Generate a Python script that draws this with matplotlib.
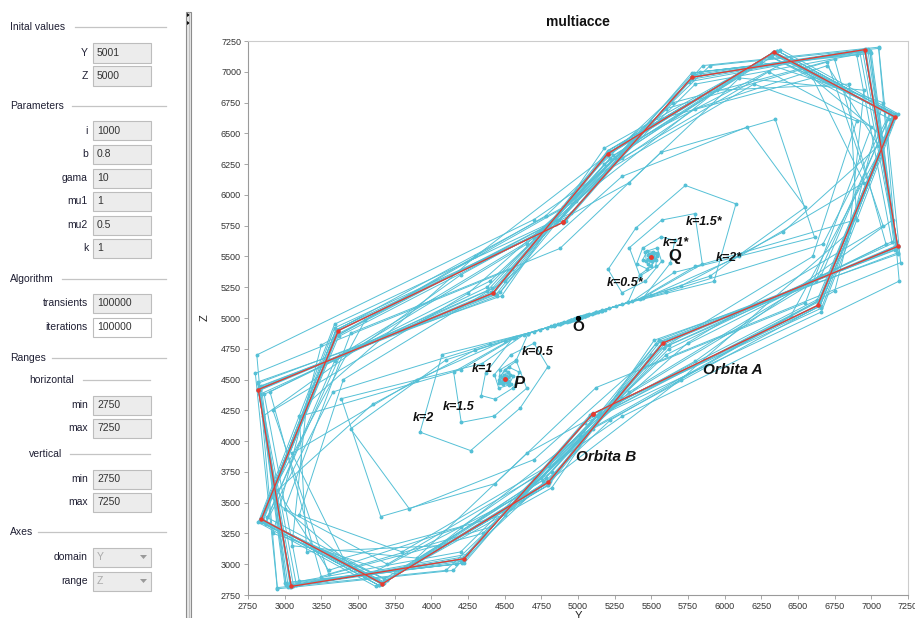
import matplotlib
matplotlib.use('Agg')
import matplotlib.pyplot as plt
from matplotlib.patches import Rectangle, Polygon
from matplotlib.lines import Line2D
import numpy as np

plt.rcParams['font.family'] = ['Liberation Sans', 'DejaVu Sans']

W, H = 915, 618

# ---------------- data (delay sequences: points are (s[t], s[t+1])) ----------------
orbit_A = [4898, 5777, 6955, 7180, 5581, 4798, 3666, 2841, 3366]
orbit_B = [5102, 4223, 3045, 2820, 4419, 5202, 6334, 7159, 6634]

traj_A1 = [4898, 5777, 6955, 7180, 5581, 4798, 3666, 2841, 3366, 4895, 5776, 6953, 7179, 5581, 4798,
           3668, 2845, 3368, 4850, 5760, 6920, 7170, 5585, 4760, 3680, 2880, 3380, 4700, 5650, 6750,
           7100, 5600, 4700, 3700, 3000, 3450, 4877, 5565, 6345, 6613, 5655, 5370, 5137, 5051, 5019,
           5007, 5003, 5001]
traj_A2 = [5581, 4798, 3663, 2838, 3363, 4899, 5779, 6957, 7181, 5576, 4802, 3663, 2838, 3340, 4920,
           5790, 6975, 7185, 5520, 4820, 3620, 2820, 3340, 4950, 5850, 7050, 7200, 5450, 4600, 3550,
           2900, 3550, 4985, 5950, 6850, 6900, 5800, 5420, 5155, 5057, 5021, 5008, 5003, 5001]
traj_A3 = [4902, 5777, 6958, 7170, 5560, 4810, 3675, 2850, 3360, 4860, 5790, 6990, 7170, 5620, 4780,
           3700, 2870, 3340, 4650, 5600, 6700, 7080, 5750, 4800, 3800, 3100, 3400, 4500, 5300, 6150,
           6550, 5900, 5340, 5126, 5047, 5017, 5006, 5002, 5000]
traj_A4 = [6958, 7180, 5575, 4800, 3680, 2855, 3355, 4895, 5775, 6990, 7160, 5550, 4820, 3750, 2920,
           3250, 4780, 5830, 7000, 7150, 5800, 4650, 3900, 3050, 3150, 4300, 5500, 6600, 6950, 6100,
           5500, 5185, 5068, 5025, 5009, 5003, 5001]
traj_A5 = [5579, 4797, 3640, 2830, 3350, 4905, 5785, 6962, 7182, 5530, 4790, 3640, 2830, 3350, 4900,
           5900, 7050, 7190, 5300, 4200, 3300, 2950, 3600, 4300, 4741, 4904, 4965, 4987, 4995, 4998,
           5000]
traj_A6 = [4897, 5777, 6940, 7175, 5590, 4790, 3670, 2848, 3362, 4870, 5800, 6900, 7140, 5620, 4750,
           3700, 2870, 3330, 4400, 4790, 4922, 4971, 4989, 4996, 4999]

traj_B1 = [5102, 4223, 3045, 2820, 4419, 5202, 6334, 7159, 6634, 5105, 4224, 3047, 2821, 4419, 5202,
           6332, 7155, 6632, 5150, 4240, 3080, 2830, 4415, 5240, 6320, 7120, 6620, 5300, 4350, 3250,
           2900, 4400, 5300, 6300, 7000, 6550, 5123, 4435, 3655, 3387, 4345, 4630, 4863, 4949, 4981,
           4993, 4997, 4999]
traj_B2 = [4419, 5202, 6337, 7162, 6637, 5101, 4221, 3043, 2819, 4424, 5198, 6337, 7162, 6660, 5080,
           4210, 3025, 2815, 4480, 5180, 6380, 7180, 6660, 5050, 4150, 2950, 2800, 4550, 5400, 6450,
           7100, 6450, 5015, 4050, 3150, 3100, 4200, 4580, 4845, 4943, 4979, 4992, 4997, 4999]
traj_B3 = [5098, 4223, 3042, 2830, 4440, 5190, 6325, 7150, 6640, 5140, 4210, 3010, 2830, 4380, 5220,
           6300, 7130, 6660, 5350, 4400, 3300, 2920, 4250, 5200, 6200, 6900, 6600, 5500, 4700, 3850,
           3450, 4100, 4660, 4874, 4953, 4983, 4994, 4998, 5000]
traj_B4 = [3042, 2820, 4425, 5200, 6320, 7145, 6645, 5105, 4225, 3010, 2840, 4450, 5180, 6250, 7080,
           6750, 5220, 4170, 3000, 2850, 4200, 5350, 6100, 6950, 6850, 5700, 4500, 3400, 3050, 3900,
           4500, 4815, 4932, 4975, 4991, 4997, 4999]
traj_B5 = [4421, 5203, 6360, 7170, 6650, 5095, 4215, 3038, 2818, 4470, 5210, 6360, 7170, 6650, 5100,
           4100, 2950, 2810, 4700, 5800, 6700, 7050, 6400, 5700, 5259, 5096, 5035, 5013, 5005, 5002,
           5000]
traj_B6 = [5103, 4223, 3060, 2825, 4410, 5210, 6330, 7152, 6638, 5130, 4200, 3100, 2860, 4380, 5250,
           6300, 7130, 6670, 5600, 5210, 5078, 5029, 5011, 5004, 5001]

spiral_P_k05 = [4505, 4504, 4507, 4503, 4499, 4510, 4515, 4490, 4480, 4520, 4560, 4530, 4459, 4470,
                4580, 4660, 4874, 4953, 4983, 4994, 4998, 5000]
spiral_P_k1 = [4505, 4503, 4507, 4504, 4498, 4500, 4520, 4518, 4480, 4470, 4530, 4600, 4560, 4434,
               4340, 4370, 4554, 4835, 4939, 4977, 4992, 4997, 5000]
spiral_P_k15 = [4505, 4506, 4503, 4508, 4500, 4490, 4512, 4525, 4490, 4460, 4500, 4580, 4650, 4429,
                4204, 4152, 4562, 4838, 4940, 4978, 4992, 4997, 4999, 5000]
spiral_P_k2 = [4505, 4504, 4507, 4502, 4510, 4508, 4490, 4495, 4535, 4540, 4460, 4430, 4540, 4700,
               4795, 4605, 4268, 3923, 4073, 4703, 4890, 4959, 4985, 4995, 4998, 5000, 5001]

spiral_Q_k05 = [5495, 5496, 5493, 5497, 5501, 5490, 5485, 5510, 5520, 5480, 5440, 5470, 5541, 5530,
                5420, 5340, 5126, 5047, 5017, 5006, 5002, 5000]
spiral_Q_k1 = [5495, 5497, 5493, 5496, 5502, 5500, 5480, 5482, 5520, 5530, 5470, 5400, 5440, 5566,
               5660, 5630, 5446, 5165, 5061, 5023, 5008, 5003, 5000]
spiral_Q_k15 = [5495, 5494, 5497, 5492, 5500, 5510, 5488, 5475, 5510, 5540, 5500, 5420, 5350, 5571,
                5796, 5848, 5438, 5162, 5060, 5022, 5008, 5003, 5001, 5000]
spiral_Q_k2 = [5495, 5496, 5493, 5498, 5490, 5492, 5510, 5505, 5465, 5460, 5540, 5570, 5460, 5300,
               5205, 5395, 5732, 6077, 5927, 5297, 5110, 5041, 5015, 5005, 5002, 5000, 4999]

fixed_P = 4505
fixed_Q = 5495
origin_O = 5000

ticks = [2750, 3000, 3250, 3500, 3750, 4000, 4250, 4500, 4750, 5000, 5250, 5500,
         5750, 6000, 6250, 6500, 6750, 7000, 7250]

annotations = [("k=1.5*", 5859, 5777, 9, 'italic'), ("k=1*", 5668, 5606, 9, 'italic'),
               ("k=2*", 6030, 5484, 9, 'italic'), ("k=0.5*", 5320, 5281, 9, 'italic'),
               ("k=0.5", 4727, 4727, 9, 'italic'), ("k=1", 4345, 4589, 9, 'italic'),
               ("k=1.5", 4189, 4280, 9, 'italic'), ("k=2", 3943, 4190, 9, 'italic'),
               ("Orbita A", 6057, 4581, 11, 'italic'), ("Orbita B", 5191, 3873, 11, 'italic'),
               ("Q", 5661, 5500, 12, 'normal'), ("P", 4598, 4467, 12, 'italic'),
               ("O", 5000, 4923, 11, 'normal')]

# left panel content
headers = [("Inital values", 10, 27, 75, 166), ("Parameters", 10, 106, 72, 166),
           ("Algorithm", 10, 279, 62, 166), ("Ranges", 10, 358, 52, 166),
           ("horizontal", 29, 380, 83, 150), ("vertical", 29, 454, 70, 150),
           ("Axes", 10, 532, 38, 166)]
field_labels = ["Y", "Z", "i", "b", "gama", "mu1", "mu2", "k", "transients", "iterations",
                "min", "max", "min", "max", "domain", "range"]
field_values = ["5001", "5000", "1000", "0.8", "10", "1", "0.5", "1", "100000", "100000",
                "2750", "7250", "2750", "7250", "Y", "Z"]
field_rows = [53, 76, 131, 154, 178, 201, 225, 248, 303, 327, 405, 428, 479, 502, 557, 581]

# ---------------- figure ----------------
fig = plt.figure(figsize=(W / 100, H / 100), dpi=100)
fig.patch.set_facecolor('white')

def fx(x):
    return x / W

def fy(y):
    return 1 - y / H

ax = fig.add_axes([fx(248), fy(595), 660 / W, 554 / H])

CYAN = '#55C0D6'
RED = '#E8392E'

def draw(seq, color, lw, ms, z, closed=False):
    s = list(seq)
    if closed:
        s = s + s[:2]
    s = np.array(s, float)
    ax.plot(s[:-1], s[1:], '-', color=color, lw=lw, marker='o', ms=ms,
            mec=color, mfc=color, zorder=z, solid_joinstyle='round')

for tr in [traj_A1, traj_A2, traj_A3, traj_A4, traj_A5, traj_A6,
           traj_B1, traj_B2, traj_B3, traj_B4, traj_B5, traj_B6,
           spiral_P_k05, spiral_P_k1, spiral_P_k15, spiral_P_k2,
           spiral_Q_k05, spiral_Q_k1, spiral_Q_k15, spiral_Q_k2]:
    draw(tr, CYAN, 0.7, 1.8, 2)

draw(orbit_A, RED, 0.9, 2.2, 3, closed=True)
draw(orbit_B, RED, 0.9, 2.2, 3, closed=True)

ax.plot([fixed_P, fixed_Q], [fixed_P, fixed_Q], 'o', color=RED, ms=2.5, zorder=4, ls='none')
ax.plot([origin_O], [origin_O], 'o', color='black', ms=2.8, zorder=4)

for txt, xv, yv, fs, st in annotations:
    ax.text(xv, yv, txt, fontsize=fs, fontweight='bold', fontstyle=st,
            ha='center', va='center', color='#111111', zorder=6)

ax.set_xlim(2750, 7250)
ax.set_ylim(2750, 7250)
ax.set_xticks(ticks)
ax.set_yticks(ticks)
ax.set_xticklabels([str(t) for t in ticks])
ax.set_yticklabels([str(t) for t in ticks])
ax.tick_params(axis='both', labelsize=6.5, labelcolor='#333333', color='#999999',
               length=3, width=0.6, pad=2)
for side in ['left', 'bottom']:
    ax.spines[side].set_color('#9a9a9a')
    ax.spines[side].set_linewidth(0.8)
for side in ['top', 'right']:
    ax.spines[side].set_color('#cccccc')
    ax.spines[side].set_linewidth(0.8)

fig.text(fx(578), fy(22), "multiacce", fontsize=10, fontweight='bold', ha='center', va='center',
         color='#111111')
fig.text(fx(205), fy(318), "Z", fontsize=8, rotation=90, ha='center', va='center', color='#222222')
fig.text(fx(578), fy(616), "Y", fontsize=8, ha='center', va='center', color='#222222')

# ---------------- left panel ----------------
TXT = '#1f1f33'
for name, x, y, l0, l1 in headers:
    fig.text(fx(x), fy(y), name, fontsize=7.5, ha='left', va='center', color=TXT)
    fig.add_artist(Line2D([fx(l0), fx(l1)], [fy(y), fy(y)], color='#c4c4c4', lw=0.9))

for lab, val, y in zip(field_labels, field_values, field_rows):
    fig.text(fx(88), fy(y), lab, fontsize=7.5, ha='right', va='center', color=TXT)
    face = '#ffffff' if lab == 'iterations' else '#ececec'
    fig.add_artist(Rectangle((fx(93), fy(y + 9.5)), 58 / W, 19 / H, transform=fig.transFigure,
                             facecolor=face, edgecolor='#bdbdbd', lw=0.8))
    col = '#aaaaaa' if lab in ('domain', 'range') else '#333333'
    fig.text(fx(97), fy(y), val, fontsize=7.5, ha='left', va='center', color=col)
    if lab in ('domain', 'range'):
        tri = [(fx(140), fy(y - 2)), (fx(147), fy(y - 2)), (fx(143.5), fy(y + 2))]
        fig.add_artist(Polygon(tri, closed=True, transform=fig.transFigure,
                               facecolor='#9a9a9a', edgecolor='none'))

# splitter
fig.add_artist(Rectangle((fx(186), fy(618)), 5 / W, 606 / H, transform=fig.transFigure,
                         facecolor='#e6e6e6', edgecolor='#8c8c8c', lw=0.8))
fig.add_artist(Line2D([fx(188.5), fx(188.5)], [fy(12), fy(618)], color='#b0b0b0', lw=0.5))
for yy in (15, 23):
    tri = [(fx(187), fy(yy - 2)), (fx(190), fy(yy)), (fx(187), fy(yy + 2))]
    fig.add_artist(Polygon(tri, closed=True, transform=fig.transFigure,
                           facecolor='#111111', edgecolor='none'))

fig.savefig('out.png', dpi=100, facecolor='white')
